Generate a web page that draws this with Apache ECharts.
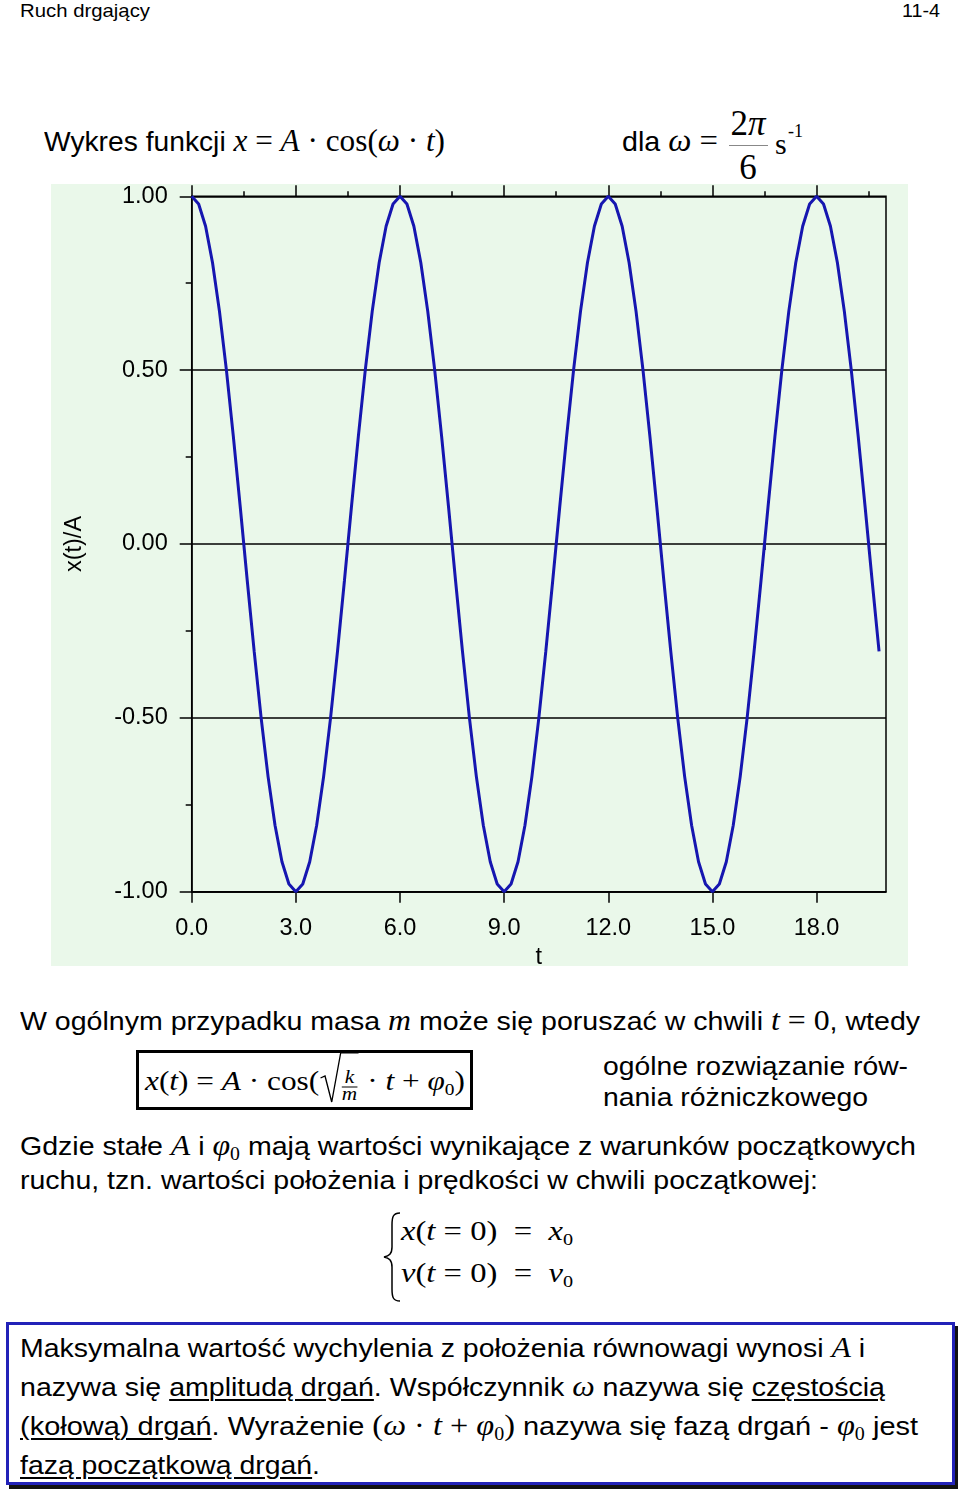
<!DOCTYPE html>
<html><head><meta charset="utf-8">
<script src="https://cdn.jsdelivr.net/npm/echarts@6/dist/echarts.min.js"></script>
<style>
html,body{margin:0;padding:0;background:#fff;}
body{width:960px;height:1494px;position:relative;overflow:hidden;font-family:"Liberation Sans",Arial,sans-serif;color:#000;}
.t{position:absolute;white-space:nowrap;line-height:1;transform-origin:0 0;}
.m{font-family:"Liberation Serif","Times New Roman",serif;line-height:0;}
.i{font-style:italic;}
i{line-height:0;}
.u{text-decoration:underline;text-decoration-thickness:2px;text-underline-offset:3px;}
sub{font-size:0.62em;vertical-align:-0.28em;line-height:0;font-style:normal;font-family:"Liberation Serif","Times New Roman",serif;}
#chart{position:absolute;left:51px;top:184px;width:857px;height:782px;}
.zb{display:inline-block;position:relative;height:0;vertical-align:baseline;}
.abs{position:absolute;line-height:1;white-space:nowrap;}
</style></head>
<body>
<!-- header -->
<div class="t" style="left:20px;top:1px;font-size:19px" data-w="130">Ruch drgający</div>
<div class="t" style="left:902px;top:1px;font-size:19px" data-w="38">11-4</div>

<!-- title -->
<div class="t" style="left:44px;top:128px;font-size:28px" data-w="401">Wykres funkcji <span class="m" style="font-size:31px"><i>x</i> = <i>A</i> · cos(<i>ω</i> · <i>t</i>)</span></div>
<div class="t" style="left:622px;top:128px;font-size:28px" data-w="96">dla <span class="m" style="font-size:32px"><i>ω</i> =</span></div>
<div class="t m" style="left:728px;top:106px;width:40px;text-align:center;font-size:35px;line-height:1">2<i style="line-height:1">π</i></div>
<div style="position:absolute;left:729px;top:145px;width:39px;height:1px;background:#888"></div>
<div class="t m" style="left:728px;top:150px;width:40px;text-align:center;font-size:35px;line-height:1">6</div>
<div class="t m" style="left:775px;top:129px;font-size:30px;line-height:1">s</div>
<div class="t m" style="left:788px;top:122px;font-size:18px;line-height:1">-1</div>

<div id="chart"></div>

<!-- paragraph -->
<div class="t" style="left:20px;top:1008px;font-size:26px" data-w="900">W ogólnym przypadku masa <span class="m i" style="font-size:29px">m</span> może się poruszać w chwili <span class="m" style="font-size:29px"><i>t</i> = 0</span>, wtedy</div>

<div style="position:absolute;left:136px;top:1050px;width:337px;height:60px;box-sizing:border-box;border:3px solid #000"></div>
<div class="t m" style="left:145px;top:1067px;font-size:28px;line-height:1" data-w="320"><i>x</i>(<i>t</i>) = <i>A</i> · cos(<span class="zb" style="width:36px"><svg style="position:absolute;left:0;top:-40px" width="36" height="56"><path d="M1,28 L5,26 L11,52 L19,3 L35,3" fill="none" stroke="#000" stroke-width="1.2"/><line x1="20" y1="37" x2="34" y2="37" stroke="#000" stroke-width="1"/></svg><span class="abs i" style="left:20px;width:14px;text-align:center;top:-23px;font-size:19px">k</span><span class="abs i" style="left:20px;width:14px;text-align:center;top:-6px;font-size:19px">m</span></span> · <i>t</i> + <i>φ</i><sub>0</sub>)</div>

<div class="t" style="left:603px;top:1053px;font-size:26px" data-w="305">ogólne rozwiązanie rów-</div>
<div class="t" style="left:603px;top:1084px;font-size:26px" data-w="265">nania różniczkowego</div>

<div class="t" style="left:20px;top:1133px;font-size:26px" data-w="896">Gdzie stałe <span class="m i" style="font-size:29px">A</span> i <span class="m i" style="font-size:29px">φ</span><sub style="font-size:18px">0</sub> mają wartości wynikające z warunków początkowych</div>
<div class="t" style="left:20px;top:1167px;font-size:26px" data-w="798">ruchu, tzn. wartości położenia i prędkości w chwili początkowej:</div>

<svg style="position:absolute;left:382px;top:1211px" width="22" height="92"><path d="M18,2 C11,2 10,6 10,14 L10,36 C10,43 7,45 2,46 C7,47 10,49 10,56 L10,78 C10,86 11,90 18,90" fill="none" stroke="#000" stroke-width="1.5"/></svg>
<div class="t m" style="left:401px;top:1217px;font-size:28px;line-height:1" data-w="172"><i>x</i>(<i>t</i> = 0) &nbsp;= &nbsp;<i>x</i><sub>0</sub></div>
<div class="t m" style="left:401px;top:1259px;font-size:28px;line-height:1" data-w="172"><i>v</i>(<i>t</i> = 0) &nbsp;= &nbsp;<i>v</i><sub>0</sub></div>

<!-- blue box -->
<div style="position:absolute;left:6px;top:1322px;width:949px;height:163px;box-sizing:border-box;border:3px solid #2222b8;box-shadow:3px 4px 0 #111"></div>
<div class="t" style="left:20px;top:1335px;font-size:26px" data-w="845">Maksymalna wartość wychylenia z położenia równowagi wynosi <span class="m i" style="font-size:29px">A</span> i</div>
<div class="t" style="left:20px;top:1374px;font-size:26px" data-w="865">nazywa się <span class="u">amplitudą drgań</span>. Współczynnik <span class="m i" style="font-size:29px">ω</span> nazywa się <span class="u">częstością</span></div>
<div class="t" style="left:20px;top:1413px;font-size:26px" data-w="898"><span class="u">(kołową) drgań</span>. Wyrażenie <span class="m" style="font-size:29px">(<i>ω</i> · <i>t</i> + <i>φ</i><sub>0</sub>)</span> nazywa się fazą drgań - <span class="m i" style="font-size:29px">φ</span><sub style="font-size:18px">0</sub> jest</div>
<div class="t" style="left:20px;top:1452px;font-size:26px" data-w="300"><span class="u">fazą początkową drgań</span>.</div>

<script>
// time values t (s)
const tValues = [
  0,0.2,0.4,0.6,0.8,1,1.2,1.4,1.6,1.8,
  2,2.2,2.4,2.6,2.8,3,3.2,3.4,3.6,3.8,
  4,4.2,4.4,4.6,4.8,5,5.2,5.4,5.6,5.8,
  6,6.2,6.4,6.6,6.8,7,7.2,7.4,7.6,7.8,
  8,8.2,8.4,8.6,8.8,9,9.2,9.4,9.6,9.8,
  10,10.2,10.4,10.6,10.8,11,11.2,11.4,11.6,11.8,
  12,12.2,12.4,12.6,12.8,13,13.2,13.4,13.6,13.8,
  14,14.2,14.4,14.6,14.8,15,15.2,15.4,15.6,15.8,
  16,16.2,16.4,16.6,16.8,17,17.2,17.4,17.6,17.8,
  18,18.2,18.4,18.6,18.8,19,19.2,19.4,19.6,19.8
];
// x(t)/A values
const xOverA = [
  1.000,0.978,0.914,0.809,0.669,0.500,0.309,0.105,-0.105,-0.309,
  -0.500,-0.669,-0.809,-0.914,-0.978,-1.000,-0.978,-0.914,-0.809,-0.669,
  -0.500,-0.309,-0.105,0.105,0.309,0.500,0.669,0.809,0.914,0.978,
  1.000,0.978,0.914,0.809,0.669,0.500,0.309,0.105,-0.105,-0.309,
  -0.500,-0.669,-0.809,-0.914,-0.978,-1.000,-0.978,-0.914,-0.809,-0.669,
  -0.500,-0.309,-0.105,0.105,0.309,0.500,0.669,0.809,0.914,0.978,
  1.000,0.978,0.914,0.809,0.669,0.500,0.309,0.105,-0.105,-0.309,
  -0.500,-0.669,-0.809,-0.914,-0.978,-1.000,-0.978,-0.914,-0.809,-0.669,
  -0.500,-0.309,-0.105,0.105,0.309,0.500,0.669,0.809,0.914,0.978,
  1.000,0.978,0.914,0.809,0.669,0.500,0.309,0.105,-0.105,-0.309
];
const xMajorTicks = [0, 3, 6, 9, 12, 15, 18];
const xMinorTicks = [1.5, 4.5, 7.5, 10.5, 13.5, 16.5, 19.5];
const xRange = [0, 20];
const yRange = [-1, 1];
const yStep = 0.5;

const sans = '"Liberation Sans", Arial, sans-serif';
const black = '#000';
const tickLine = {color: black, width: 1.5};

function tickAxis(pos, ticks, len, withLabels) {
  const ax = {
    type: 'value', position: pos, min: xRange[0], max: xRange[1],
    axisLine: {show: false},
    axisTick: {show: true, customValues: ticks, length: len, lineStyle: tickLine},
    axisLabel: {show: false},
    splitLine: {show: false}
  };
  if (withLabels) {
    ax.axisLine = {show: true, onZero: false, lineStyle: tickLine};
    ax.axisLabel = {show: true, customValues: ticks, formatter: v => v.toFixed(1),
      margin: 25, fontSize: 23.5, color: black, fontFamily: sans};
    ax.name = 't';
    ax.nameLocation = 'middle';
    ax.nameGap = 48;
    ax.nameTextStyle = {fontSize: 23.5, color: black, fontFamily: sans};
  }
  return ax;
}

const chart = echarts.init(document.getElementById('chart'));
chart.setOption({
  animation: false,
  backgroundColor: '#eaf8ea',
  grid: {left: 140.7, top: 12.3, right: 22, bottom: 74.3, show: true,
         containLabel: false, outerBoundsMode: 'none',
         borderColor: black, borderWidth: 1.5, backgroundColor: 'transparent'},
  xAxis: [
    tickAxis('bottom', xMajorTicks, 11, true),
    tickAxis('bottom', xMinorTicks, 6, false),
    tickAxis('top', xMajorTicks, 11, false),
    tickAxis('top', xMinorTicks, 5, false)
  ],
  yAxis: {
    type: 'value', min: yRange[0], max: yRange[1], interval: yStep,
    name: 'x(t)/A', nameLocation: 'middle', nameGap: 105,
    nameTextStyle: {fontSize: 23.5, color: black, fontFamily: sans},
    axisLine: {show: true, onZero: false, lineStyle: tickLine},
    axisTick: {show: true, length: 12, lineStyle: tickLine},
    minorTick: {show: true, splitNumber: 2, length: 6, lineStyle: tickLine},
    axisLabel: {formatter: v => v.toFixed(2), margin: 24, fontSize: 23.5, color: black, fontFamily: sans},
    splitLine: {show: true, lineStyle: {color: black, width: 1.5}},
    minorSplitLine: {show: false}
  },
  series: [{
    type: 'line', xAxisIndex: 0, yAxisIndex: 0,
    data: tValues.map((t, i) => [t, xOverA[i]]),
    showSymbol: false, symbol: 'none', clip: true,
    lineStyle: {color: '#1616b0', width: 3},
    itemStyle: {color: '#1616b0'}
  }]
});

// fit text widths to the reference line widths
document.querySelectorAll('[data-w]').forEach(el => {
  const w = el.getBoundingClientRect().width;
  const target = +el.dataset.w;
  if (w > 0) el.style.transform = 'scaleX(' + (target / w).toFixed(4) + ')';
});
</script>
</body></html>
